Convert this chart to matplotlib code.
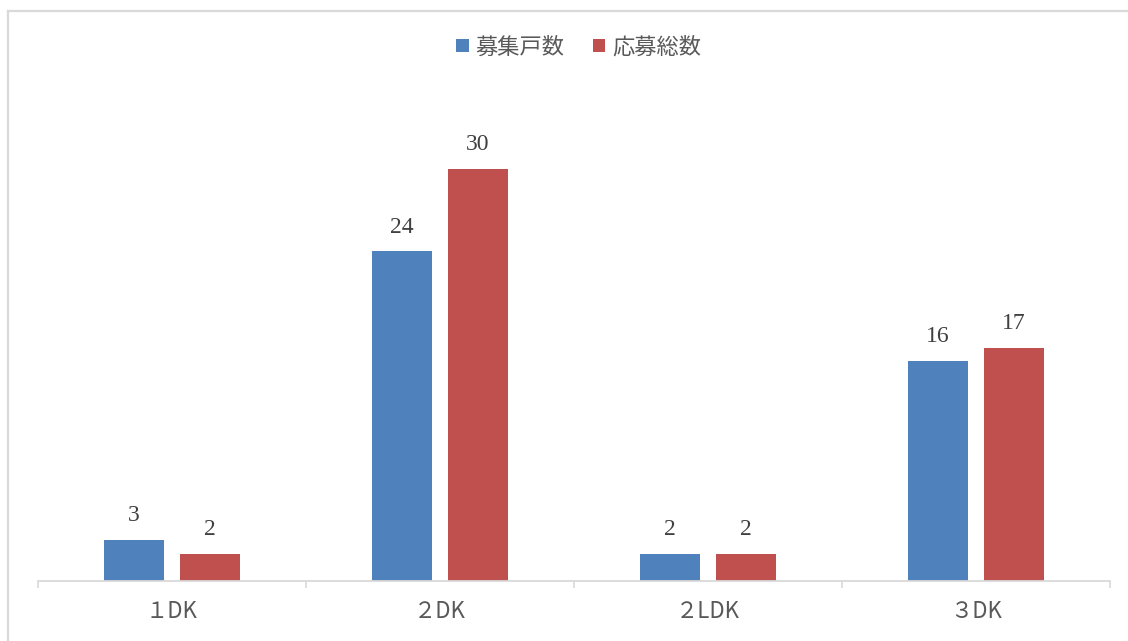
import matplotlib
matplotlib.use("Agg")
from matplotlib import pyplot as plt
from matplotlib.lines import Line2D
import numpy as np

plt.rcParams['font.family'] = ['Noto Sans CJK JP', 'DejaVu Sans']

categories = ['１DK', '２DK', '２LDK', '３DK']
recruited = [3, 24, 2, 16]   # 募集戸数
applied = [2, 30, 2, 17]     # 応募総数
series_names = ['募集戸数', '応募総数']
colors = ['#4F81BD', '#C0504D']

fig = plt.figure(figsize=(11.28, 6.41), dpi=100)
ax = fig.add_axes([37.7 / 1128, 60 / 641, (1109.7 - 37.7) / 1128, 0.75])

x = np.arange(len(categories))
w = 0.224
off = 0.142
b1 = ax.bar(x - off, recruited, w, color=colors[0], label=series_names[0])
b2 = ax.bar(x + off, applied, w, color=colors[1], label=series_names[1])

for bars, vals in ((b1, recruited), (b2, applied)):
    for rect, v in zip(bars, vals):
        ax.annotate(str(v), (rect.get_x() + rect.get_width() / 2, v),
                    xytext=(0, 10), textcoords='offset points',
                    ha='center', va='bottom', fontsize=17,
                    family='Liberation Serif', color='#404040')

# ~13.73 px per unit, axes is 0.75 * 641 px tall
ax.set_ylim(0, 0.75 * 641 / 13.73)
ax.set_xlim(-0.5, len(categories) - 0.5)
ax.set_yticks([])
ax.set_xticks(x)
ax.set_xticklabels(categories, fontsize=16, color='#595959')
ax.tick_params(axis='x', which='major', length=0, pad=14)
ax.set_xticks(np.arange(-0.5, len(categories)), minor=True)
ax.tick_params(axis='x', which='minor', length=5, width=1.2, color='#D9D9D9')
for s in ('top', 'right', 'left'):
    ax.spines[s].set_visible(False)
ax.spines['bottom'].set_color('#D9D9D9')
ax.spines['bottom'].set_linewidth(1.3)

fig.legend(loc='center', bbox_to_anchor=(0.513, 1 - 47 / 641), ncol=2,
           frameon=False, fontsize=16, handlelength=0.55, handleheight=0.55,
           handletextpad=0.3, columnspacing=1.3, labelcolor='#595959')

# outer chart border (only top/left visible in the crop)
fig.add_artist(Line2D([8 / 1128, 1], [1 - 11 / 641, 1 - 11 / 641],
                      transform=fig.transFigure, color='#D9D9D9', lw=1.6))
fig.add_artist(Line2D([8 / 1128, 8 / 1128], [0, 1 - 11 / 641],
                      transform=fig.transFigure, color='#D9D9D9', lw=1.6))

fig.savefig('out.png', dpi=100)
